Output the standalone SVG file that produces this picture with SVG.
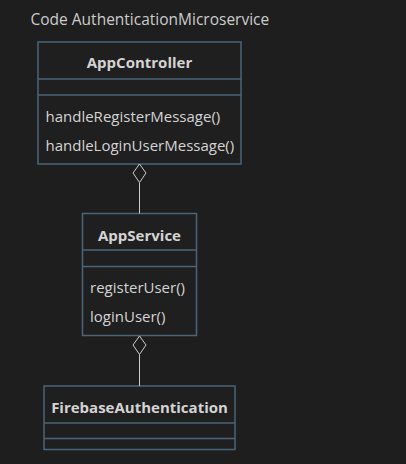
<svg xmlns="http://www.w3.org/2000/svg" width="406" height="464" viewBox="0 0 406 464">
<style>
text{font-family:"Open Sans","Noto Sans","DejaVu Sans",sans-serif;fill:#d4d4d4;}
.title{font-size:15.5px;fill:#cccccc;}
.name{font-size:15px;font-weight:bold;text-anchor:middle;}
.m{font-size:15px;}
.box{fill:#1f1f1f;stroke:#4b6477;stroke-width:1.5;}
.div{stroke:#4b6477;stroke-width:1.5;}
.edge{stroke:#cccccc;stroke-width:1;fill:none;}
.dia{fill:#1e1e1e;stroke:#cccccc;stroke-width:1;}
</style>
<rect width="406" height="464" fill="#1e1e1e"/>
<text class="title" x="30.5" y="25">Code AuthenticationMicroservice</text>
<g id="AppController">
<rect class="box" x="38" y="42" width="203" height="122"/>
<line class="div" x1="38" y1="79" x2="241" y2="79"/>
<line class="div" x1="38" y1="95" x2="241" y2="95"/>
<text class="name" x="139.5" y="68">AppController</text>
<text class="m" x="45.5" y="121.5">handleRegisterMessage()</text>
<text class="m" x="45.5" y="150.5">handleLoginUserMessage()</text>
</g>
<g id="AppService">
<rect class="box" x="82.5" y="213.5" width="114" height="122"/>
<line class="div" x1="82.5" y1="250" x2="196.5" y2="250"/>
<line class="div" x1="82.5" y1="266.5" x2="196.5" y2="266.5"/>
<text class="name" x="139.5" y="240.5">AppService</text>
<text class="m" x="90" y="293">registerUser()</text>
<text class="m" x="90" y="322">loginUser()</text>
</g>
<g id="FirebaseAuthentication">
<rect class="box" x="44" y="386" width="191" height="63.5"/>
<line class="div" x1="44" y1="423" x2="235" y2="423"/>
<line class="div" x1="44" y1="438.5" x2="235" y2="438.5"/>
<text class="name" x="139.5" y="412.5">FirebaseAuthentication</text>
</g>
<g id="connectors">
<line class="edge" x1="139.5" y1="182.5" x2="139.5" y2="213.5"/>
<polygon class="dia" points="139.5,164 146,173 139.5,182.5 133,173"/>
<line class="edge" x1="139.5" y1="354.5" x2="139.5" y2="386"/>
<polygon class="dia" points="139.5,336 146,345 139.5,354.5 133,345"/>
</g>
</svg>
